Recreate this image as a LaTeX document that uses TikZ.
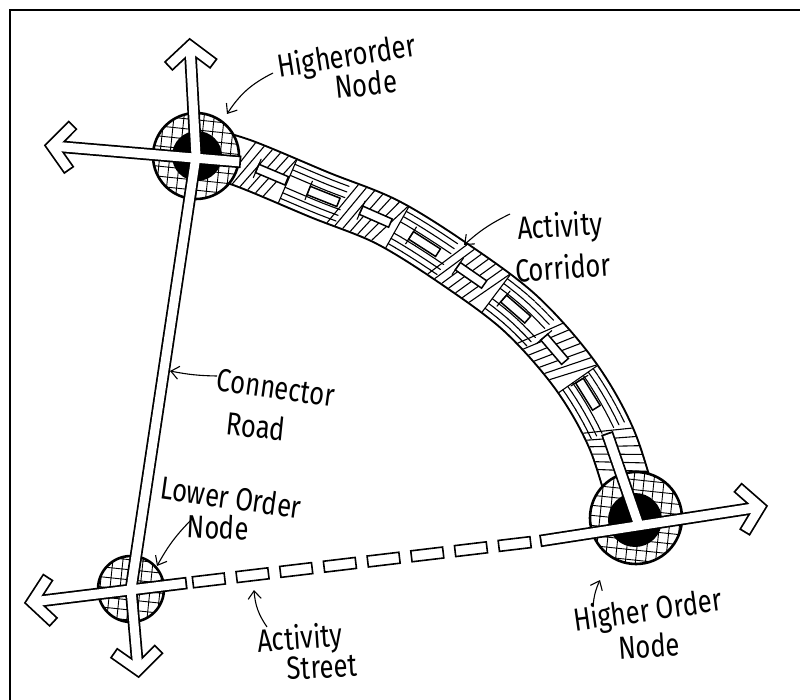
\documentclass[tikz,border=0pt]{standalone}
\usepackage{fontspec}
\setmainfont{Fira Sans}
\newfontfamily\handfont{Fira Sans}[FakeStretch=0.8]
\usetikzlibrary{decorations.markings,arrows.meta,calc}
\newcommand\corrhatch{%
  \pgfmathtruncatemacro\hblk{mod(\pgfkeysvalueof{/pgf/decoration/mark info/sequence number},14)}%
  \ifnum\hblk<7
    \draw[hatchln] (8,-23) -- (-8,23);
  \else
    \draw[hatchln] (0,-18.5)--(8.3,-18.5) (0,-12.5)--(8.3,-12.5) (0,-6.5)--(8.3,-6.5)
                   (0,6.5)--(8.3,6.5) (0,12.5)--(8.3,12.5) (0,18.5)--(8.3,18.5);
  \fi
  \ifnum\hblk=7 \draw[hatchln] (0,-23)--(0,23); \fi
}
\def\corrpath{plot[smooth,tension=0.55] coordinates {(196,150) (243,163) (320,195) (387,222) (453,263) (520,313) (575,375) (612,440) (636,518)}}
\begin{document}
\begin{tikzpicture}[x=1pt,y=-1pt,
  hatchln/.style={line width=1.1pt, line cap=round},
  rectst/.style={draw=black, fill=white, line width=1.5pt},
  gridln/.style={line width=0.9pt},
  roadk/.style={line width=12.5pt, black, line join=miter},
  roadw/.style={line width=9pt, white, line join=miter},
  lab/.style={font=\handfont\fontsize{32}{34}\selectfont, inner sep=0pt},
  leader/.style={line width=1.1pt, -{Straight Barb[length=8pt,width=13pt,line width=1.1pt]}},
  ring/.style={line width=2.6pt}
]
\useasboundingbox (0,0) rectangle (800,700);
% frame
\draw[line width=2pt] (10,700) -- (10,10) -- (800,10);

% node centres and road points
\coordinate (TLn) at (196,156);
\coordinate (BRn) at (636,518);
\coordinate (LOn) at (131,589);
\coordinate (tTLup) at (190,46);
\coordinate (tTLleft) at (52,146);
\coordinate (tLOleft) at (32,602);
\coordinate (tLOdown) at (138,670);
\coordinate (tBRright) at (760,507);
\coordinate (eTLright) at (241,162);
\coordinate (eLOright) at (187,583);
\coordinate (eBRleft) at (540,541);
\coordinate (eStrip) at (607,433);
\coordinate (sEnd) at ($(eBRleft)!0.45!(tBRright)$);

% chevron arms
\coordinate (c1a) at ($(tTLup)!30pt!50:(TLn)$);
\coordinate (c1b) at ($(tTLup)!30pt!-50:(TLn)$);
\coordinate (c2a) at ($(tTLleft)!30pt!50:(eTLright)$);
\coordinate (c2b) at ($(tTLleft)!30pt!-50:(eTLright)$);
\coordinate (c3a) at ($(tLOleft)!30pt!50:(eLOright)$);
\coordinate (c3b) at ($(tLOleft)!30pt!-50:(eLOright)$);
\coordinate (c4a) at ($(tLOdown)!30pt!50:(LOn)$);
\coordinate (c4b) at ($(tLOdown)!30pt!-50:(LOn)$);
\coordinate (c5a) at ($(tBRright)!30pt!50:(eBRleft)$);
\coordinate (c5b) at ($(tBRright)!30pt!-50:(eBRleft)$);

% activity corridor
\draw[line width=50pt, black] \corrpath;
\draw[line width=46pt, white] \corrpath;
\path[decorate, decoration={markings, mark=between positions 46pt and -47pt step 8.5pt with {\corrhatch}}] \corrpath;
\path[decorate, decoration={markings, mark=between positions 80pt and -115pt step 56pt with
  {\draw[rectst] (-16,-4.5) rectangle (16,4.5); \draw[hatchln] (-16,-10)--(-16,10);}}] \corrpath;

% nodes
\foreach \c/\r in {TLn/43, BRn/46, LOn/33}{
  \fill[white] (\c) circle (\r);
  \begin{scope}
    \clip (\c) circle (\r);
    \draw[gridln, rotate around={-6:(\c)}, step=10pt] ($(\c)+(-70,70)$) grid ($(\c)+(70,-70)$);
  \end{scope}
  \draw[ring] (\c) circle (\r);
}
\fill (197,156) circle (25);
\fill (635,520) circle (27);

% roads: outlines
\draw[roadk] (tTLup) -- (TLn) -- (LOn) -- (tLOdown)
  (tTLleft) -- (eTLright)
  (tLOleft) -- (eLOright)
  (eBRleft) -- (tBRright)
  (eStrip) -- (sEnd)
  (c1a) -- (tTLup) -- (c1b)
  (c2a) -- (tTLleft) -- (c2b)
  (c3a) -- (tLOleft) -- (c3b)
  (c4a) -- (tLOdown) -- (c4b)
  (c5a) -- (tBRright) -- (c5b);
% roads: interiors
\draw[roadw] (tTLup) -- (TLn) -- (LOn) -- (tLOdown);
\draw[roadw, shorten >=1.8pt] (tTLleft) -- (eTLright);
\draw[roadw, shorten >=1.8pt] (tLOleft) -- (eLOright);
\draw[roadw, shorten <=1.8pt] (eBRleft) -- (tBRright);
\draw[roadw, shorten <=1.8pt] (eStrip) -- (sEnd);
\foreach \a/\t/\b in {c1a/tTLup/c1b, c2a/tTLleft/c2b, c3a/tLOleft/c3b, c4a/tLOdown/c4b, c5a/tBRright/c5b}{
  \draw[roadw, shorten <=1.8pt, shorten >=1.8pt] (\a) -- (\t) -- (\b);
}

% activity street (dashes)
\path[decorate, decoration={markings, mark=between positions 16pt and -14pt step 44pt with
  {\draw[rectst, line width=1.6pt] (-16,-5.5) rectangle (16,5.5);}}]
  ($(eLOright)!6pt!(eBRleft)$) -- ($(eBRleft)!6pt!(eLOright)$);

% labels
\node[lab, rotate=9] (lHN1a) at (347,58) {Higherorder};
\node[lab, rotate=6]  (lHN1b) at (366,84) {Node};
\node[lab, rotate=3]  (lACa) at (560,228) {Activity};
\node[lab, rotate=4]  (lACb) at (563,267) {Corridor};
\node[lab, rotate=-8] (lCRa) at (276,388) {Connector};
\node[lab, rotate=-6] (lCRb) at (256,426) {Road};
\node[lab, rotate=-8] (lLOa) at (231,497) {Lower Order};
\node[lab, rotate=-3] (lLOb) at (218,527) {Node};
\node[lab, rotate=4]  (lASa) at (300,640) {Activity};
\node[lab, rotate=3]  (lASb) at (322,667) {Street};
\node[lab, rotate=8]  (lHN2a) at (648,612) {Higher Order};
\node[lab, rotate=4]  (lHN2b) at (649,646) {Node};

% leaders
\coordinate (p1s) at (273,73);  \coordinate (p1e) at (227,114);
\coordinate (p2s) at (510,214); \coordinate (p2e) at (464,245);
\coordinate (p3s) at (217,376); \coordinate (p3e) at (170,371);
\coordinate (p4s) at (193,518); \coordinate (p4e) at (157,566);
\coordinate (p5s) at (267,627); \coordinate (p5e) at (254,590);
\coordinate (p6s) at (593,607); \coordinate (p6e) at (600,580);
\draw[leader] (p1s) to[bend right=15] (p1e);
\draw[leader] (p2s) to[bend right=8] (p2e);
\draw[leader] (p3s) to[bend left=5] (p3e);
\draw[leader] (p4s) to[bend right=8] (p4e);
\draw[leader] (p5s) to[bend left=15] (p5e);
\draw[leader] (p6s) to[bend left=10] (p6e);
\end{tikzpicture}
\end{document}
